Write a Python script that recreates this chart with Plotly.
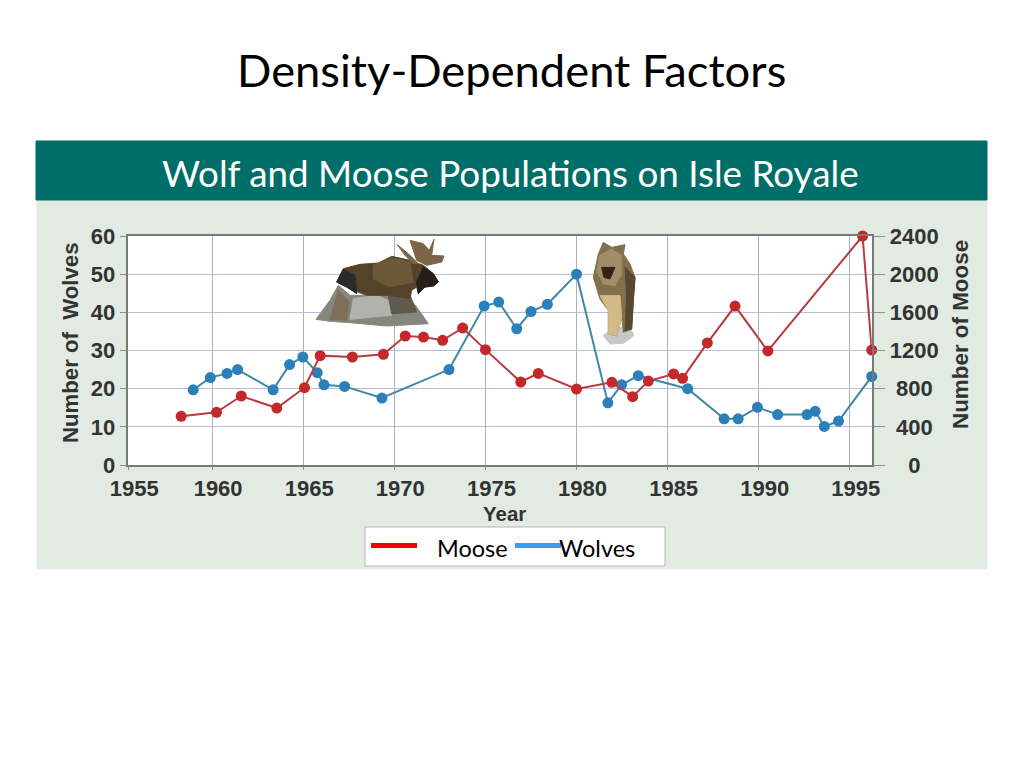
import plotly.graph_objects as go

W, H = 1008, 752
OFFSET = 8

moose_years = [1958.3, 1960.24, 1961.6, 1963.55, 1965.07, 1965.93, 1967.7, 1969.4, 1970.6, 1971.6, 1972.65, 1973.75, 1975.0, 1976.94, 1977.9, 1980.0, 1981.94, 1983.08, 1983.94, 1985.33, 1985.82, 1987.18, 1988.7, 1990.5, 1995.7, 1996.2]
moose = [510, 552, 723, 597, 810, 1146, 1132, 1160, 1352, 1341, 1307, 1436, 1209, 870, 960, 796, 866, 716, 880, 954, 908, 1279, 1666, 1195, 2400, 1205]
wolf_years = [1958.96, 1959.9, 1960.82, 1961.4, 1963.35, 1964.25, 1964.98, 1965.77, 1966.14, 1967.27, 1969.32, 1973.0, 1974.93, 1975.73, 1976.72, 1977.5, 1978.4, 1980.0, 1981.72, 1982.47, 1983.39, 1986.1, 1988.1, 1988.87, 1989.93, 1991.04, 1992.65, 1993.1, 1993.6, 1994.38, 1996.2]
wolves = [19.7, 22.9, 24, 25, 19.7, 26.3, 28.3, 24.2, 21, 20.6, 17.55, 25, 41.66, 42.7, 35.7, 40.2, 42.1, 50, 16.3, 21, 23.4, 20, 12.1, 12.1, 15.1, 13.2, 13.2, 14.06, 10.1, 11.5, 23.2]

year_ticks = [1955.4, 1960, 1965, 1970, 1975, 1980, 1985, 1990, 1995]
year_labels = ["1955", "1960", "1965", "1970", "1975", "1980", "1985", "1990", "1995"]
wolf_ticks = [0, 10, 20, 30, 40, 50, 60]
moose_ticks = [0, 400, 800, 1200, 1600, 2000, 2400]
# nbsp padding centres the short labels on the right axis
moose_labels = ["\u00a0\u00a0\u00a00", "\u00a0400", "\u00a0800", "1200", "1600", "2000", "2400"]

TEAL = "#006e68"
PANEL = "#e1ebe2"
TICK_FONT = dict(family="Liberation Sans", size=22, color="#333333", weight="bold")


# reference pixels to paper coordinates
def px(x):
  return (x - OFFSET) / W


def py(y):
  return 1 - (y - OFFSET) / H


def box(x0, y0, x1, y1, fill, line=None):
  return dict(type="rect", xref="paper", yref="paper", x0=px(x0), x1=px(x1), y0=py(y0), y1=py(y1), fillcolor=fill, line=dict(color=line or fill, width=1), layer="below")


def text(x, y, s, size, color="black", family="Lato", **kw):
  return dict(xref="paper", yref="paper", x=px(x), y=py(y), xanchor="center", yanchor="middle", text=s, showarrow=False, font=dict(family=family, size=size, color=color), **kw)


# rough cut-out picture, points given in a 3x zoom of the region at (ox, oy)
def blob(ox, oy, points, fill):
  coords = [str(px(ox + a / 3)) + " " + str(py(oy + b / 3)) for a, b in points]
  return dict(type="path", xref="paper", yref="paper", path="M " + " L ".join(coords) + " Z", fillcolor=fill, line=dict(color=fill, width=1), layer="above")


def moose_picture():
  o = (310, 232)
  return [
    blob(*o, [(18, 262), (60, 205), (85, 160), (120, 190), (140, 190), (290, 190), (320, 225), (355, 275), (230, 282), (120, 272), (60, 268)], "#85867c"),
    blob(*o, [(130, 200), (200, 190), (235, 205), (245, 250), (120, 262)], "#b0b2ac"),
    blob(*o, [(60, 262), (85, 175), (118, 210), (110, 265)], "#7d705a"),
    blob(*o, [(235, 190), (300, 190), (320, 240), (245, 245)], "#5f5a4c"),
    blob(*o, [(80, 150), (100, 110), (150, 97), (205, 93), (245, 73), (300, 85), (340, 100), (370, 125), (385, 150), (370, 162), (345, 165), (325, 185), (320, 165), (305, 175), (300, 200), (235, 190), (170, 190), (130, 175), (100, 160)], "#54432b"),
    blob(*o, [(80, 150), (100, 112), (135, 130), (140, 185), (110, 165)], "#2a2a2a"),
    blob(*o, [(340, 105), (370, 125), (385, 150), (370, 162), (345, 165), (325, 185), (320, 150)], "#241f1a"),
    blob(*o, [(190, 100), (245, 78), (300, 90), (310, 150), (240, 165), (190, 140)], "#6d5838"),
    blob(*o, [(262, 38), (300, 70), (325, 95), (310, 95), (285, 70)], "#7a6546"),
    blob(*o, [(300, 25), (340, 35), (358, 55), (372, 22), (365, 70), (402, 72), (395, 90), (350, 100), (320, 85)], "#7a6546"),
  ]


def wolf_picture():
  o = (580, 234)
  return [
    blob(*o, [(70, 305), (100, 280), (150, 280), (162, 305), (130, 328), (90, 330)], "#c6c9c8"),
    blob(*o, [(70, 25), (95, 40), (135, 32), (130, 60), (150, 90), (165, 130), (160, 200), (155, 285), (130, 295), (125, 250), (110, 305), (85, 300), (85, 230), (60, 195), (40, 130), (55, 60)], "#80704c"),
    blob(*o, [(60, 185), (120, 185), (125, 250), (110, 305), (85, 300), (85, 230)], "#d3b888"),
    blob(*o, [(58, 65), (95, 45), (125, 65), (125, 120), (105, 155), (70, 150), (50, 110)], "#a08e68"),
    blob(*o, [(65, 100), (105, 100), (90, 135), (72, 130)], "#3a2018"),
    blob(*o, [(135, 100), (165, 130), (160, 200), (155, 285), (135, 290), (140, 190)], "#56492f"),
  ]


fig = go.Figure()
fig.add_trace(go.Scatter(x=wolf_years, y=wolves, name="Wolves", mode="lines+markers", line=dict(color="#3f88a6", width=2), marker=dict(color="#2b80b9", size=11), cliponaxis=False))
fig.add_trace(go.Scatter(x=moose_years, y=moose, name="Moose", yaxis="y2", mode="lines+markers", line=dict(color="#b83a42", width=2), marker=dict(color="#c4282a", size=11), cliponaxis=False))

shapes = [
  box(37, 200, 987, 569, PANEL),
  box(36, 141, 987, 200, TEAL),
  box(128.3, 236, 871.7, 465, "white"),
  box(365, 527, 665, 566, "white", "#b4b8b6"),
  dict(type="line", xref="paper", yref="paper", x0=px(371), x1=px(417), y0=py(545.5), y1=py(545.5), line=dict(color="#f00000", width=5)),
  dict(type="line", xref="paper", yref="paper", x0=px(515), x1=px(561), y0=py(545.5), y1=py(545.5), line=dict(color="#3d9bf0", width=5)),
] + moose_picture() + wolf_picture()

annotations = [
  text(511, 70, "Density-Dependent Factors", 45.3),
  text(510, 173, "Wolf and Moose Populations on Isle Royale", 36.8, color="white"),
  text(472, 548, "Moose", 23.5),
  text(597, 548, "Wolves", 23.5),
  text(504.5, 513, "<b>Year</b>", 20.5, color="#333333", family="Liberation Sans"),
  text(70, 343, "<b>Number of\u00a0\u00a0Wolves</b>", 22.2, color="#333333", family="Liberation Sans", textangle=-90),
  text(960, 335, "<b>Number of Moose</b>", 22.4, color="#333333", family="Liberation Sans", textangle=-90),
]

fig.update_layout(
  width=W, height=H, margin=dict(l=0, r=0, t=0, b=0, autoexpand=False), paper_bgcolor="white", plot_bgcolor="rgba(0,0,0,0)",
  showlegend=False, shapes=shapes, annotations=annotations,
  xaxis=dict(domain=[px(128.3), px(871.7)], range=[1955.4, 1996.2], tickmode="array", tickvals=year_ticks, ticktext=year_labels, ticklabelshift=6, tickfont=TICK_FONT, ticks="outside", ticklen=3, tickcolor="#8a8f8a", gridcolor="#a9b3c0", gridwidth=1, showline=True, linecolor="#777a77", linewidth=1.5, mirror=True, zeroline=False),
  yaxis=dict(domain=[py(465), py(236)], range=[0, 60], tickmode="array", tickvals=wolf_ticks, tickfont=TICK_FONT, ticks="outside", ticklen=7, tickcolor="#8a8f8a", gridcolor="#b7bfd6", gridwidth=1, showline=True, linecolor="#777a77", linewidth=1.5, zeroline=False),
  yaxis2=dict(domain=[py(465), py(236)], overlaying="y", side="right", range=[0, 2400], tickmode="array", tickvals=moose_ticks, ticktext=moose_labels, tickfont=TICK_FONT, ticks="outside", ticklen=12, tickcolor="#8a8f8a", showgrid=False, showline=True, linecolor="#777a77", linewidth=1.5, zeroline=False),
)

fig.write_html("out.html")
